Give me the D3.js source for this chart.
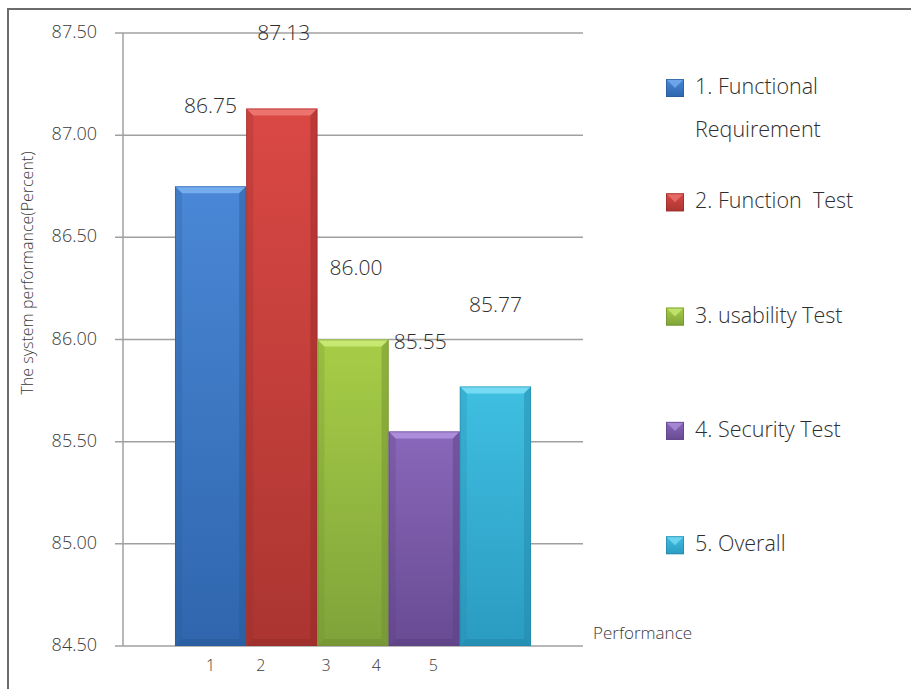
<!DOCTYPE html>
<html>
<head>
<meta charset="utf-8">
<script src="https://cdn.jsdelivr.net/npm/d3@7/dist/d3.min.js"></script>
<style>
  html, body { margin: 0; padding: 0; background: #fff; }
  svg { display: block; font-family: "Open Sans", "Noto Sans", sans-serif; font-weight: 350; }
  svg text { white-space: pre; }
</style>
</head>
<body>
<div id="chart"></div>
<script>
// data
var categories = ["1", "2", "3", "4", "5"];
var values = [86.75, 87.13, 86.00, 85.55, 85.77];
var legendNames = [["1. Functional", "Requirement"], ["2. Function  Test"], ["3. usability Test"], ["4. Security Test"], ["5. Overall"]];
var yTicks = [84.5, 85.0, 85.5, 86.0, 86.5, 87.0, 87.5];
var xTickLabels = ["1", "2", "3", "4", "5"];

// colours: [top, bottom, bevel light, bevel dark]
var palette = [
    ["#4a87d6", "#2f66ad", "#7db3f2", "#285a99"],
    ["#da4844", "#ab3531", "#f07b76", "#952b28"],
    ["#a7cd47", "#80a33a", "#cdec79", "#6f8e31"],
    ["#8967ba", "#684b93", "#b294e0", "#5a3f80"],
    ["#3fbfe1", "#2b9bc1", "#7fe0f7", "#2387a9"]
];

var W = 911, H = 689;
var svg = d3.select("#chart").append("svg").attr("width", W).attr("height", H);

// outer frame (open on the right/bottom, like the cropped screenshot)
svg.append("path")
    .attr("d", "M8,689 L8,9 L911,9")
    .attr("fill", "none").attr("stroke", "#6b6b6b").attr("stroke-width", 2);

var y = d3.scaleLinear().domain([84.5, 87.5]).range([646, 33]);
var x = d3.scaleBand().domain(categories).range([123, 583]).paddingInner(0).paddingOuter(0.73);

//gridlines + y labels
var grid = svg.append("g");
grid.selectAll("line").data(yTicks).enter().append("line")
    .attr("x1", 115).attr("x2", 583)
    .attr("y1", function(d){ return y(d); })
    .attr("y2", function(d){ return y(d); })
    .attr("stroke", "#a0a0a0").attr("stroke-width", 1.5);

grid.selectAll("text").data(yTicks).enter().append("text")
    .attr("x", 97).attr("y", function(d){ return y(d) + 5; })
    .attr("text-anchor", "end")
    .attr("font-size", 18).attr("fill", "#3a3a3a")
    .text(function(d){ return d.toFixed(2); });

svg.append("line")
    .attr("x1", 123).attr("x2", 123).attr("y1", y(87.5)).attr("y2", y(84.5))
    .attr("stroke", "#a0a0a0").attr("stroke-width", 1.5);

// gradients
var defs = svg.append("defs");
palette.forEach(function(p, i){
    var g = defs.append("linearGradient").attr("id", "grad" + i)
        .attr("x1", 0).attr("y1", 0).attr("x2", 0).attr("y2", 1);
    g.append("stop").attr("offset", "0%").attr("stop-color", p[0]);
    g.append("stop").attr("offset", "100%").attr("stop-color", p[1]);
});

// bars with bevel
var bev = 7;
var bars = svg.append("g").selectAll("g").data(values).enter().append("g");
bars.each(function(v, i){
    var g = d3.select(this);
    var x0 = x(categories[i]), x1 = x0 + x.bandwidth();
    var y0 = y(v), y1 = y(84.5);
    var p = palette[i];
    g.append("rect")
        .attr("x", x0).attr("y", y0).attr("width", x1 - x0).attr("height", y1 - y0)
        .attr("fill", "url(#grad" + i + ")");
    // top bevel
    g.append("path")
        .attr("d", "M" + x0 + "," + y0 + "L" + x1 + "," + y0 + "L" + (x1 - bev) + "," + (y0 + bev) + "L" + (x0 + bev) + "," + (y0 + bev) + "Z")
        .attr("fill", p[2]).attr("opacity", 0.85);
    // left
    g.append("path")
        .attr("d", "M" + x0 + "," + y0 + "L" + (x0 + bev) + "," + (y0 + bev) + "L" + (x0 + bev) + "," + (y1 - bev) + "L" + x0 + "," + y1 + "Z")
        .attr("fill", p[3]).attr("opacity", 0.25);
    // right
    g.append("path")
        .attr("d", "M" + x1 + "," + y0 + "L" + (x1 - bev) + "," + (y0 + bev) + "L" + (x1 - bev) + "," + (y1 - bev) + "L" + x1 + "," + y1 + "Z")
        .attr("fill", p[3]).attr("opacity", 0.45);
    // bottom
    g.append("path")
        .attr("d", "M" + x0 + "," + y1 + "L" + (x0 + bev) + "," + (y1 - bev) + "L" + (x1 - bev) + "," + (y1 - bev) + "L" + x1 + "," + y1 + "Z")
        .attr("fill", p[3]).attr("opacity", 0.55);
    g.append("rect")
        .attr("x", x0 + 0.5).attr("y", y0 + 0.5).attr("width", x1 - x0 - 1).attr("height", y1 - y0 - 1)
        .attr("fill", "none").attr("stroke", p[3]).attr("stroke-opacity", 0.5);
});

// value labels (placed above the bars like the original)
var labelDx = [0, 2, 3, -4, 0];
var labelDy = [-73, -69, -65, -82, -74];
svg.append("g").selectAll("text").data(values).enter().append("text")
    .attr("x", function(d, i){ return x(categories[i]) + x.bandwidth() / 2 + labelDx[i]; })
    .attr("y", function(d, i){ return y(d) + labelDy[i]; })
    .attr("text-anchor", "middle")
    .attr("font-size", 21).attr("fill", "#2e2e2e")
    .text(function(d){ return d.toFixed(2); });

// x tick labels (they sit off-centre in the original)
var tickDx = [0, -21, -27, -48, -62];
svg.append("g").selectAll("text").data(xTickLabels).enter().append("text")
    .attr("x", function(d, i){ return x(categories[i]) + x.bandwidth() / 2 + tickDx[i]; })
    .attr("y", 671)
    .attr("text-anchor", "middle")
    .attr("font-size", 16).attr("fill", "#3a3a3a")
    .text(function(d){ return d; });

svg.append("text")
    .attr("x", 593).attr("y", 639)
    .attr("font-size", 17).attr("fill", "#3a3a3a")
    .text("Performance");

svg.append("text")
    .attr("transform", "translate(33,273) rotate(-90)")
    .attr("text-anchor", "middle")
    .attr("font-size", 16).attr("fill", "#3a3a3a")
    .text("The system performance(Percent)");

// legend
var legend = svg.append("g").selectAll("g").data(legendNames).enter().append("g")
    .attr("transform", function(d, i){ return "translate(666," + (94 + i * 114.3) + ")"; });
legend.each(function(names, i){
    var g = d3.select(this);
    var s = 18, p = palette[i];
    g.append("rect").attr("x", 0).attr("y", -15).attr("width", s).attr("height", s).attr("fill", "url(#grad" + i + ")");
    g.append("path")
        .attr("d", "M0,-15 L" + s + ",-15 L" + (s / 2) + "," + (-15 + s / 2) + "Z")
        .attr("fill", p[2]).attr("opacity", 0.7);
    g.append("rect").attr("x", 0.5).attr("y", -14.5).attr("width", s - 1).attr("height", s - 1)
        .attr("fill", "none").attr("stroke", p[3]).attr("stroke-opacity", 0.7);
    names.forEach(function(n, k){
        g.append("text").attr("x", 29).attr("y", k * 43)
            .attr("font-size", 21.5).attr("fill", "#2e2e2e").text(n);
    });
});
</script>
</body>
</html>
